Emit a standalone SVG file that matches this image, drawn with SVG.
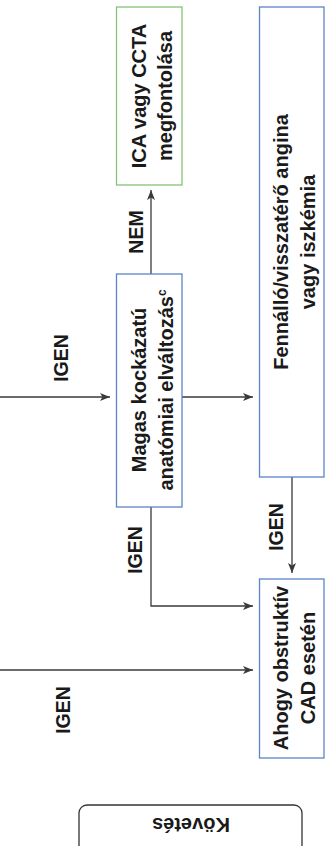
<svg xmlns="http://www.w3.org/2000/svg" width="325" height="846" viewBox="0 0 325 846">
<style>
.bg{fill:#ffffff}
.box{fill:#ffffff;stroke-width:1.3}
.blue{stroke:#5b84c8}
.green{stroke:#86c474}
.term{fill:#ffffff;stroke:#333333;stroke-width:1.3}
.t{font-family:"Liberation Sans",Arial,sans-serif;font-weight:bold;font-size:20px;fill:#1a1a1a;text-anchor:middle}
.lbl{font-family:"Liberation Sans",Arial,sans-serif;font-weight:bold;font-size:19.5px;fill:#1a1a1a;text-anchor:middle}
.c{fill:none;stroke:#3a3a3a;stroke-width:1.3}
</style>
<defs>
<marker id="ah" viewBox="0 0 10 8" refX="10" refY="4" markerWidth="10" markerHeight="8" orient="auto" markerUnits="userSpaceOnUse">
<path d="M0,0 L10,4 L0,8 L2.5,4 z" fill="#3a3a3a"/>
</marker>
</defs>
<rect class="bg" x="0" y="0" width="325" height="846"/>
<g id="connectors">
<path class="c" d="M0,397 H110" marker-end="url(#ah)"/>
<path class="c" d="M182,397 H253" marker-end="url(#ah)"/>
<path class="c" d="M151,274 V190" marker-end="url(#ah)"/>
<path class="c" d="M292,477 V573" marker-end="url(#ah)"/>
<path class="c" d="M151,507 V606 H253" marker-end="url(#ah)"/>
<path class="c" d="M0,670 H253" marker-end="url(#ah)"/>
<text class="lbl" transform="translate(143,232) rotate(-90)">NEM</text>
<text class="lbl" transform="translate(68,358) rotate(-90)">IGEN</text>
<text class="lbl" transform="translate(142,550) rotate(-90)">IGEN</text>
<text class="lbl" transform="translate(283,527) rotate(-90)">IGEN</text>
<text class="lbl" transform="translate(70,710) rotate(-90)">IGEN</text>
</g>
<g id="node-ica">
<rect class="box green" x="116.5" y="7" width="65.5" height="178"/>
<text class="t" transform="translate(146,96) rotate(-90)">ICA vagy CCTA</text>
<text class="t" transform="translate(172,96) rotate(-90)">megfontolása</text>
</g>
<g id="node-magas">
<rect class="box blue" x="116.5" y="274" width="65.5" height="233"/>
<text class="t" transform="translate(146,390) rotate(-90)">Magas kockázatú</text>
<text class="t" transform="translate(173,390) rotate(-90)">anatómiai elváltozás<tspan font-size="12" dy="-7">c</tspan></text>
</g>
<g id="node-fennallo">
<rect class="box blue" x="259.5" y="7" width="64.5" height="470"/>
<text class="t" transform="translate(288,242) rotate(-90)">Fennálló/visszatérő angina</text>
<text class="t" transform="translate(315,242) rotate(-90)">vagy iszkémia</text>
</g>
<g id="node-ahogy">
<rect class="box blue" x="259.5" y="579" width="64.5" height="179"/>
<text class="t" transform="translate(288,668) rotate(-90)">Ahogy obstruktív</text>
<text class="t" transform="translate(315,668) rotate(-90)">CAD esetén</text>
</g>
<g id="node-kovetes">
<rect class="term" x="79" y="805" width="223" height="60" rx="8"/>
<text class="t" transform="translate(191,818) rotate(180)">Követés</text>
</g>
</svg>
